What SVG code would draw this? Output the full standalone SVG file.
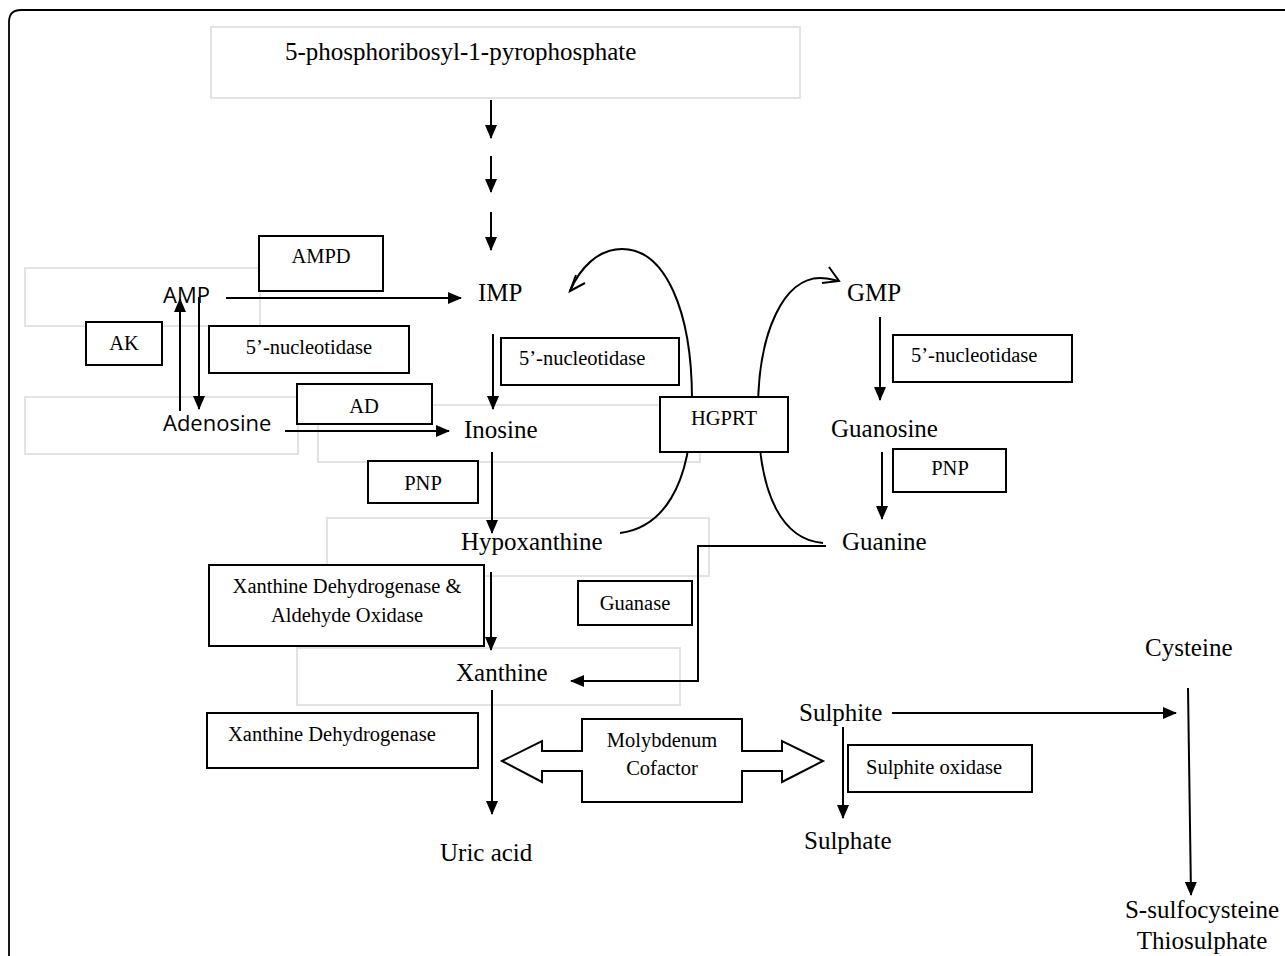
<svg xmlns="http://www.w3.org/2000/svg" width="1285" height="956" viewBox="0 0 1285 956">
<style>
.t{font-family:"Liberation Serif","Times New Roman",serif;fill:#000}
.big{font-size:25px}
.sm{font-size:20.5px}
.sans{font-family:"Open Sans","Liberation Sans",sans-serif;font-size:22px;fill:#000}
.gbox{fill:none;stroke:#e3e3e3;stroke-width:2}
.box{fill:#fff;stroke:#000;stroke-width:2}
.ln{fill:none;stroke:#000;stroke-width:2}
.arr{fill:none;stroke:#000;stroke-width:2;marker-end:url(#ah)}
</style>
<defs>
<marker id="ah" markerUnits="userSpaceOnUse" markerWidth="14" markerHeight="12" refX="13" refY="6" orient="auto">
<path d="M0,0 L14,6 L0,12 Z" fill="#000"/>
</marker>
</defs>
<rect width="1285" height="956" fill="#fff"/>
<path d="M9 956 V22 Q9 10 21 10 H1285" fill="none" stroke="#000" stroke-width="1.8"/>

<g id="faint-boxes">
<rect class="gbox" x="211" y="27" width="589" height="71"/>
<rect class="gbox" x="25" y="268" width="235" height="58"/>
<rect class="gbox" x="25" y="397" width="273" height="57"/>
<rect class="gbox" x="318" y="405" width="382" height="57"/>
<rect class="gbox" x="327" y="518" width="382" height="58"/>
<rect class="gbox" x="297" y="648" width="383" height="57"/>
</g>

<g id="connectors">
<line class="arr" x1="491" y1="100" x2="491" y2="138"/>
<line class="arr" x1="491" y1="156" x2="491" y2="192"/>
<line class="arr" x1="491" y1="212" x2="491" y2="250"/>
<line class="arr" x1="226" y1="298" x2="461" y2="298"/>
<line class="arr" x1="180" y1="411" x2="180" y2="299"/>
<line class="arr" x1="199" y1="297" x2="199" y2="409"/>
<line class="arr" x1="285" y1="431" x2="449" y2="431"/>
<line class="arr" x1="493" y1="334" x2="493" y2="409"/>
<line class="arr" x1="492" y1="452" x2="492" y2="533"/>
<line class="arr" x1="491" y1="572" x2="491" y2="650"/>
<line class="arr" x1="492" y1="690" x2="492" y2="814"/>
<line class="arr" x1="880" y1="317" x2="880" y2="400"/>
<line class="arr" x1="882" y1="452" x2="882" y2="519"/>
<polyline class="arr" points="826,546 698,546 698,681 571,681"/>
<path class="ln" d="M620 533 C660 528 692 490 692 400 C692 310 665 249 622 249 C598 249 580 268 570 291"/>
<polyline class="ln" points="576,275 570,291 585,283"/>
<path class="ln" d="M823 543 C785 540 758 500 758 410 C758 330 785 278 820 278 C828 278 834 280 839 281"/>
<polyline class="ln" points="829,267 839,281 822,283"/>
<line class="arr" x1="892" y1="713" x2="1176" y2="713"/>
<line class="arr" x1="843" y1="727" x2="843" y2="818"/>
<line class="arr" x1="1188" y1="688" x2="1191" y2="895"/>
</g>

<g id="n-prpp"><text class="t big" x="285" y="60">5-phosphoribosyl-1-pyrophosphate</text></g>
<g id="n-imp"><text class="t big" x="478" y="301">IMP</text></g>
<g id="n-amp"><text class="sans" x="163" y="303">AMP</text></g>
<g id="n-adenosine"><text class="sans" x="163" y="431">Adenosine</text></g>
<g id="n-inosine"><text class="t big" x="464" y="438">Inosine</text></g>
<g id="n-hypoxanthine"><text class="t big" x="461" y="550">Hypoxanthine</text></g>
<g id="n-xanthine"><text class="t big" x="456" y="681">Xanthine</text></g>
<g id="n-uric"><text class="t big" x="440" y="861">Uric acid</text></g>
<g id="n-gmp"><text class="t big" x="847" y="301">GMP</text></g>
<g id="n-guanosine"><text class="t big" x="831" y="437">Guanosine</text></g>
<g id="n-guanine"><text class="t big" x="842" y="550">Guanine</text></g>
<g id="n-sulphite"><text class="t big" x="799" y="721">Sulphite</text></g>
<g id="n-sulphate"><text class="t big" x="804" y="849">Sulphate</text></g>
<g id="n-cysteine"><text class="t big" x="1145" y="656">Cysteine</text></g>
<g id="n-ssulfo"><text class="t big" x="1202" y="918" text-anchor="middle">S-sulfocysteine</text><text class="t big" x="1202" y="949" text-anchor="middle">Thiosulphate</text></g>

<g id="e-ampd"><rect class="box" x="259" y="236" width="124" height="55"/><text class="t sm" x="321" y="263" text-anchor="middle">AMPD</text></g>
<g id="e-ak"><rect class="box" x="86" y="322" width="76" height="43"/><text class="t sm" x="124" y="350" text-anchor="middle">AK</text></g>
<g id="e-nuc1"><rect class="box" x="209" y="326" width="200" height="47"/><text class="t sm" x="309" y="354" text-anchor="middle">5’-nucleotidase</text></g>
<g id="e-ad"><rect class="box" x="297" y="384" width="135" height="40"/><text class="t sm" x="364" y="413" text-anchor="middle">AD</text></g>
<g id="e-nuc2"><rect class="box" x="501" y="338" width="178" height="47"/><text class="t sm" x="519" y="365">5’-nucleotidase</text></g>
<g id="e-hgprt"><rect class="box" x="660" y="397" width="128" height="55"/><text class="t sm" x="724" y="425" text-anchor="middle">HGPRT</text></g>
<g id="e-pnp1"><rect class="box" x="368" y="461" width="110" height="42"/><text class="t sm" x="423" y="490" text-anchor="middle">PNP</text></g>
<g id="e-nuc3"><rect class="box" x="893" y="335" width="179" height="47"/><text class="t sm" x="911" y="362">5’-nucleotidase</text></g>
<g id="e-pnp2"><rect class="box" x="893" y="449" width="113" height="43"/><text class="t sm" x="950" y="475" text-anchor="middle">PNP</text></g>
<g id="e-xdhao"><rect class="box" x="209" y="565" width="275" height="81"/><text class="t sm" x="347" y="593" text-anchor="middle">Xanthine Dehydrogenase &amp;</text><text class="t sm" x="347" y="622" text-anchor="middle">Aldehyde Oxidase</text></g>
<g id="e-guanase"><rect class="box" x="578" y="581" width="114" height="44"/><text class="t sm" x="635" y="610" text-anchor="middle">Guanase</text></g>
<g id="e-xdh"><rect class="box" x="207" y="713" width="271" height="55"/><text class="t sm" x="228" y="741">Xanthine Dehydrogenase</text></g>
<g id="e-moco"><path class="box" d="M502 761 L542 741 L542 751 L582 751 L582 719 L742 719 L742 751 L782 751 L782 741 L823 761 L782 782 L782 771 L742 771 L742 802 L582 802 L582 771 L542 771 L542 782 Z"/><text class="t sm" x="662" y="747" text-anchor="middle">Molybdenum</text><text class="t sm" x="662" y="775" text-anchor="middle">Cofactor</text></g>
<g id="e-so"><rect class="box" x="848" y="745" width="184" height="47"/><text class="t sm" x="866" y="774">Sulphite oxidase</text></g>
</svg>
